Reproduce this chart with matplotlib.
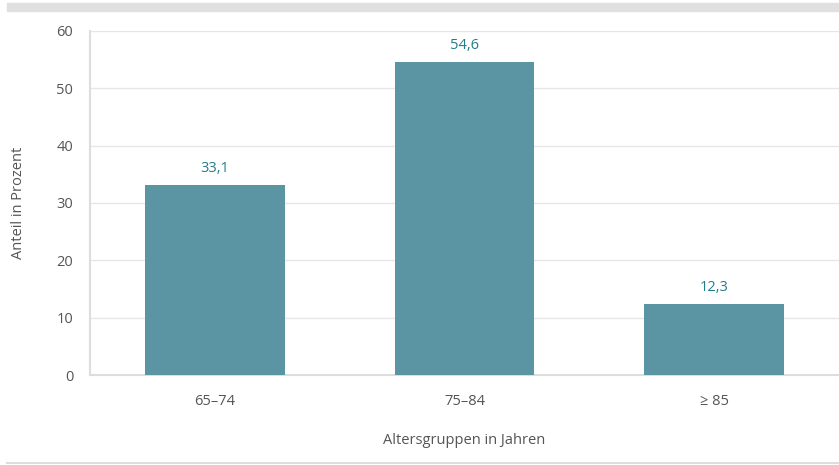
import matplotlib
matplotlib.use("Agg")
import matplotlib.pyplot as plt
from matplotlib.patches import Rectangle
from matplotlib.lines import Line2D

categories = ["65\u201374", "75\u201384", "\u2265 85"]
values = [33.1, 54.6, 12.3]
value_labels = ["33,1", "54,6", "12,3"]
yticks = [0, 10, 20, 30, 40, 50, 60]

plt.rcParams['font.family'] = ['Open Sans', 'DejaVu Sans']

W, H = 839, 465
fig = plt.figure(figsize=(W / 100, H / 100), dpi=100)
ax = fig.add_axes([90 / W, (H - 375) / H, (839 - 90) / W, (375 - 31) / H])

x = range(len(categories))
ax.bar(x, values, width=0.56, color="#5b95a4", zorder=3)
for xi, v, lab in zip(x, values, value_labels):
    ax.annotate(lab, (xi, v), xytext=(0, 6.5), textcoords="offset points",
                ha="center", va="bottom", color="#237b8c", fontsize=10.5)

ax.set_xlim(-0.5, 2.5)
ax.set_ylim(0, 60)
ax.set_yticks(yticks)
ax.set_xticks(list(x))
ax.set_xticklabels(categories)
ax.tick_params(axis="both", length=0, colors="#555555", labelsize=10.5)
ax.tick_params(axis="y", pad=12)
ax.tick_params(axis="x", pad=14)
ax.grid(axis="y", color="#e6e6e6", linewidth=1, zorder=0)
for s in ["top", "right"]:
    ax.spines[s].set_visible(False)
for s in ["left", "bottom"]:
    ax.spines[s].set_color("#dddddd")
    ax.spines[s].set_linewidth(1.5)
ax.set_ylabel("Anteil in Prozent", color="#555555", fontsize=10.5, labelpad=22)
ax.set_xlabel("Altersgruppen in Jahren", color="#555555", fontsize=10.5, labelpad=17)

fig.patches.append(Rectangle((7 / W, (H - 11) / H), (W - 7) / W, 8 / H,
                             transform=fig.transFigure, color="#e0e0e0", zorder=0))
fig.lines.append(Line2D([7 / W, 1], [(H - 463) / H] * 2, transform=fig.transFigure,
                        color="#dddddd", linewidth=1.5))

fig.savefig("out.png", dpi=100)
